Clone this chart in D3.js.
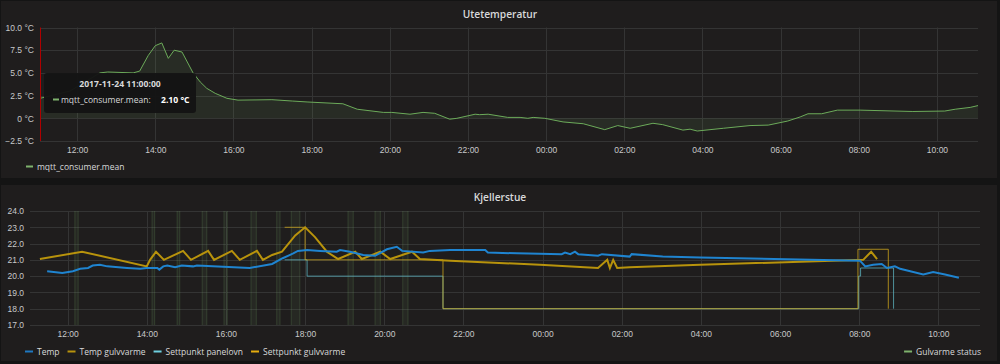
<!DOCTYPE html>
<html>
<head>
<meta charset="utf-8">
<script src="https://cdn.jsdelivr.net/npm/d3@7"></script>
<style>
  body { margin: 0; background: #141414; }
  svg { display: block; font-family: "Open Sans", sans-serif; }
  .tick text { fill: #c8c9ca; font-size: 8.5px; }
</style>
</head>
<body>
<div id="chart"></div>
<script>
// time strings are "day HH:MM" in November 2017
var uteSeries = [
  ["24 11:03", 2.2], ["24 11:49", 3.0], ["24 12:35", 5.0], ["24 12:47", 5.1], ["24 13:26", 5.0],
  ["24 13:36", 5.2], ["24 13:49", 6.9], ["24 14:00", 8.0], ["24 14:10", 8.3], ["24 14:20", 6.6],
  ["24 14:29", 7.5], ["24 14:41", 7.3], ["24 14:58", 5.0], ["24 15:09", 4.0], ["24 15:19", 3.3],
  ["24 15:32", 2.75], ["24 15:50", 2.2], ["24 16:07", 2.0], ["24 16:59", 2.05], ["24 17:31", 1.9],
  ["24 17:53", 1.8], ["24 18:48", 1.6], ["24 19:10", 1.0], ["24 19:50", 0.65], ["24 20:03", 0.65],
  ["24 20:31", 0.45], ["24 20:51", 0.65], ["24 21:09", 0.55], ["24 21:32", -0.1], ["24 21:43", 0.0],
  ["24 22:11", 0.45], ["24 22:18", 0.4], ["24 22:31", 0.45], ["24 23:01", 0.1], ["24 23:20", 0.1],
  ["24 23:32", 0.0], ["24 23:40", 0.1], ["24 23:58", 0.0], ["25 00:26", -0.4], ["25 00:57", -0.6],
  ["25 01:30", -1.25], ["25 01:50", -0.8], ["25 02:09", -1.1], ["25 02:44", -0.55], ["25 02:59", -0.7],
  ["25 03:30", -1.3], ["25 03:41", -1.2], ["25 03:52", -1.4], ["25 04:32", -1.1], ["25 05:13", -0.8],
  ["25 05:41", -0.75], ["25 06:11", -0.3], ["25 06:30", 0.15], ["25 06:42", 0.5], ["25 07:03", 0.5],
  ["25 07:27", 0.9], ["25 08:02", 0.9], ["25 09:23", 0.75], ["25 10:12", 0.8], ["25 10:28", 1.0],
  ["25 10:51", 1.2], ["25 11:03", 1.4]
];

var tempSeries = [
  ["24 11:29", 20.3], ["24 11:52", 20.2], ["24 12:08", 20.3], ["24 12:19", 20.45], ["24 12:31", 20.5],
  ["24 12:38", 20.65], ["24 12:49", 20.7], ["24 13:00", 20.6], ["24 13:30", 20.5], ["24 13:50", 20.45],
  ["24 14:00", 20.5], ["24 14:16", 20.5], ["24 14:19", 20.4], ["24 14:25", 20.6], ["24 14:31", 20.65],
  ["24 14:43", 20.55], ["24 14:53", 20.65], ["24 15:10", 20.6], ["24 15:16", 20.65], ["24 16:36", 20.5],
  ["24 17:10", 20.75], ["24 17:26", 21.1], ["24 17:34", 21.25], ["24 17:42", 21.4], ["24 17:49", 21.55],
  ["24 18:03", 21.6], ["24 18:23", 21.55], ["24 18:48", 21.5], ["24 18:53", 21.6], ["24 19:08", 21.5],
  ["24 19:28", 21.3], ["24 19:46", 21.25], ["24 20:04", 21.65], ["24 20:19", 21.8], ["24 20:27", 21.55],
  ["24 20:59", 21.45], ["24 21:09", 21.55], ["24 21:40", 21.6], ["24 22:33", 21.6], ["24 22:37", 21.45],
  ["24 23:21", 21.4], ["25 00:29", 21.35], ["25 00:34", 21.45], ["25 00:42", 21.35], ["25 00:49", 21.5],
  ["25 00:54", 21.35], ["25 01:24", 21.25], ["25 01:30", 21.35], ["25 02:12", 21.2], ["25 02:15", 21.35],
  ["25 03:02", 21.2], ["25 03:59", 21.15], ["25 08:01", 20.95], ["25 08:09", 20.6], ["25 08:21", 20.7],
  ["25 08:34", 20.75], ["25 08:42", 20.5], ["25 08:54", 20.6], ["25 09:02", 20.45], ["25 09:37", 20.1],
  ["25 09:52", 20.25], ["25 10:10", 20.1], ["25 10:31", 19.9]
];

var tempGulvSeries = [
  ["24 11:18", 21.05], ["24 12:22", 21.5], ["24 14:00", 20.6], ["24 14:05", 21.0], ["24 14:14", 21.5],
  ["24 14:26", 21.0], ["24 14:55", 21.55], ["24 15:07", 21.0], ["24 15:33", 21.55], ["24 15:42", 21.0],
  ["24 16:09", 21.55], ["24 16:21", 21.0], ["24 16:47", 21.55], ["24 16:56", 21.0], ["24 17:10", 21.3],
  ["24 17:25", 21.5], ["24 17:45", 22.5], ["24 18:00", 23.0], ["24 18:15", 22.4], ["24 18:33", 21.5],
  ["24 18:50", 21.05], ["24 19:16", 21.5], ["24 19:26", 21.05], ["24 19:54", 21.5], ["24 20:09", 21.05],
  ["24 20:42", 21.5], ["24 20:54", 21.05], ["24 21:40", 20.95], ["24 23:56", 20.7], ["25 01:24", 20.5],
  ["25 01:38", 21.0], ["25 01:42", 20.5], ["25 01:47", 21.0], ["25 01:53", 20.5], ["25 02:12", 20.55],
  ["25 03:59", 20.7], ["25 08:06", 21.0], ["25 08:18", 21.5], ["25 08:27", 21.05]
];

var settPanelSeries = [
  ["24 17:29", 21.0], ["24 18:03", 20.0], ["24 21:29", 18.0], ["25 07:59", 20.0], ["25 08:02", 20.5], ["25 08:52", 18.0]
];

var settGulvSeries = [
  ["24 17:29", 23.0], ["24 18:00", 21.0], ["24 21:29", 18.0], ["25 07:58", 21.65], ["25 08:44", 18.0]
];

// periods where Gulvarme status is on
var gulvStatusOn = [
  ["24 12:11", "24 12:16"], ["24 14:08", "24 14:12"], ["24 14:46", "24 14:50"], ["24 15:24", "24 15:31"],
  ["24 15:57", "24 16:02"], ["24 16:38", "24 16:46"], ["24 17:17", "24 17:22"], ["24 17:39", "24 17:52"],
  ["24 19:05", "24 19:13"], ["24 19:46", "24 19:54"], ["24 20:28", "24 20:36"]
];

var uteTicks = [-2.5, 0, 2.5, 5, 7.5, 10];
var kjellerTicks = [17, 18, 19, 20, 21, 22, 23, 24];
var timeStart = "24 11:03", timeEnd = "25 11:03";

var tooltipTime = "2017-11-24 11:00:00";
var tooltipValue = "2.10 °C";

var parse = d3.timeParse("%Y-%m-%d %H:%M");
function t(s) { return parse("2017-11-" + s); }
function rows(arr) { return arr.map(function(d) { return { t: t(d[0]), v: d[1] }; }); }

var width = 1000, height = 364;
var svg = d3.select("#chart").append("svg")
  .attr("width", width)
  .attr("height", height);

var gridColor = "#343434";
var textColor = "#d8d9da";

// panels
svg.append("rect").attr("x", 1).attr("y", 1).attr("width", 996).attr("height", 177).attr("fill", "#1f1d1d");
svg.append("rect").attr("x", 1).attr("y", 185).attr("width", 996).attr("height", 176).attr("fill", "#1f1d1d");

function drawPanel(opts) {
  var g = svg.append("g");
  var x = d3.scaleTime().domain([t(timeStart), t(timeEnd)]).range([opts.left, opts.right]);
  var y = d3.scaleLinear().domain(opts.domain).range([opts.bottom, opts.top]);

  g.append("text")
    .attr("x", 500).attr("y", opts.titleY)
    .attr("text-anchor", "middle")
    .attr("fill", textColor)
    .style("font-size", "10.2px")
    .style("font-weight", 600)
    .text(opts.title);

  // grid
  g.append("g").selectAll("line").data(opts.ticks).enter().append("line")
    .attr("x1", opts.left).attr("x2", opts.right)
    .attr("y1", function(d) { return Math.round(y(d)) + 0.5; })
    .attr("y2", function(d) { return Math.round(y(d)) + 0.5; })
    .attr("stroke", gridColor);
  g.append("g").selectAll("line").data(x.ticks(d3.timeHour.every(2))).enter().append("line")
    .attr("x1", function(d) { return Math.round(x(d)) + 0.5; })
    .attr("x2", function(d) { return Math.round(x(d)) + 0.5; })
    .attr("y1", opts.top).attr("y2", opts.bottom)
    .attr("stroke", gridColor);

  var yAxis = d3.axisLeft(y).tickValues(opts.ticks).tickSize(0).tickPadding(3).tickFormat(opts.fmt);
  g.append("g").attr("transform", "translate(" + opts.labelX + ",0)").call(yAxis)
    .call(function(a) { a.select(".domain").remove(); });

  var xAxis = d3.axisBottom(x).ticks(d3.timeHour.every(2)).tickSize(0).tickPadding(6)
    .tickFormat(d3.timeFormat("%H:%M"));
  g.append("g").attr("transform", "translate(0," + opts.bottom + ")").call(xAxis)
    .call(function(a) { a.select(".domain").remove(); });

  return { g: g, x: x, y: y };
}

// ---------- Utetemperatur ----------
var top1 = drawPanel({
  title: "Utetemperatur", titleY: 18, left: 40, right: 978, top: 27.5, bottom: 141,
  domain: [-2.5, 10], ticks: uteTicks, labelX: 37,
  fmt: function(d) { return (d === 0 ? "0" : d3.format(".1f")(d)) + " °C"; }
});

var ute = rows(uteSeries);
top1.g.append("path").datum(ute)
  .attr("fill", "rgba(126,178,109,0.10)")
  .attr("d", d3.area().x(function(d) { return top1.x(d.t); }).y0(top1.y(0)).y1(function(d) { return top1.y(d.v); }));
top1.g.append("path").datum(ute)
  .attr("fill", "none").attr("stroke", "#6cab5a").attr("stroke-width", 1)
  .attr("d", d3.line().x(function(d) { return top1.x(d.t); }).y(function(d) { return top1.y(d.v); }));

// crosshair
top1.g.append("line")
  .attr("x1", 40.5).attr("x2", 40.5).attr("y1", 27.5).attr("y2", 141)
  .attr("stroke", "#b00000").attr("stroke-width", 1);

// tooltip
var tip = top1.g.append("g");
tip.append("rect").attr("x", 44).attr("y", 73).attr("width", 152).attr("height", 40).attr("rx", 3)
  .attr("fill", "#141414").attr("fill-opacity", 0.96);
tip.append("text").attr("x", 120).attr("y", 87).attr("text-anchor", "middle")
  .attr("fill", textColor).style("font-size", "8.6px").style("font-weight", 700).text(tooltipTime);
tip.append("line").attr("x1", 53).attr("x2", 59).attr("y1", 99.5).attr("y2", 99.5)
  .attr("stroke", "#7eb26d").attr("stroke-width", 2);
tip.append("text").attr("x", 61).attr("y", 102.5).attr("fill", textColor).style("font-size", "8.5px")
  .text("mqtt_consumer.mean:");
tip.append("text").attr("x", 161).attr("y", 102.5).attr("fill", "#ffffff").style("font-size", "8.6px")
  .style("font-weight", 700).text(tooltipValue);

// legend
svg.append("line").attr("x1", 26).attr("x2", 33).attr("y1", 166.5).attr("y2", 166.5)
  .attr("stroke", "#7eb26d").attr("stroke-width", 2);
svg.append("text").attr("x", 37).attr("y", 169.5).attr("fill", textColor).style("font-size", "8.5px")
  .text("mqtt_consumer.mean");

// ---------- Kjellerstue ----------
var p2 = drawPanel({
  title: "Kjellerstue", titleY: 201, left: 30, right: 980, top: 211, bottom: 325,
  domain: [17, 24], ticks: kjellerTicks, labelX: 27,
  fmt: d3.format(".1f")
});

// status bars
var statusG = p2.g.append("g");
gulvStatusOn.forEach(function(p) {
  var x0 = p2.x(t(p[0])), x1 = p2.x(t(p[1]));
  statusG.append("rect").attr("x", x0).attr("y", 211).attr("width", x1 - x0).attr("height", 114)
    .attr("fill", "rgba(126,178,109,0.08)");
  [x0, x1].forEach(function(xx) {
    statusG.append("line").attr("x1", xx).attr("x2", xx).attr("y1", 211).attr("y2", 325)
      .attr("stroke", "rgba(126,178,109,0.2)").attr("stroke-width", 1);
  });
});

function line2(curve) {
  return d3.line().curve(curve || d3.curveLinear)
    .x(function(d) { return p2.x(d.t); }).y(function(d) { return p2.y(d.v); });
}

p2.g.append("path").datum(rows(settPanelSeries))
  .attr("fill", "none").attr("stroke", "#5fb8c6").attr("stroke-opacity", 0.75).attr("stroke-width", 1)
  .attr("d", line2(d3.curveStepAfter));
p2.g.append("path").datum(rows(settGulvSeries))
  .attr("fill", "none").attr("stroke", "#d4ab1c").attr("stroke-opacity", 0.75).attr("stroke-width", 1)
  .attr("d", line2(d3.curveStepAfter));
p2.g.append("path").datum(rows(tempGulvSeries))
  .attr("fill", "none").attr("stroke", "#b8930c").attr("stroke-width", 2)
  .attr("d", line2());
p2.g.append("path").datum(rows(tempSeries))
  .attr("fill", "none").attr("stroke", "#1f84d0").attr("stroke-width", 2)
  .attr("d", line2());

// legend
var legendItems = [
  { name: "Temp", color: "#1f78c1" },
  { name: "Temp gulvvarme", color: "#b8930c" },
  { name: "Settpunkt panelovn", color: "#6ed0e0" },
  { name: "Settpunkt gulvvarme", color: "#e5ac0e" }
];
var lx = 25;
legendItems.forEach(function(it) {
  svg.append("line").attr("x1", lx).attr("x2", lx + 8).attr("y1", 351.5).attr("y2", 351.5)
    .attr("stroke", it.color).attr("stroke-width", 2);
  var tx = svg.append("text").attr("x", lx + 12).attr("y", 354.5).attr("fill", textColor)
    .style("font-size", "8.5px").text(it.name);
  lx += 12 + tx.node().getComputedTextLength() + 8;
});
var st = svg.append("text").attr("x", 981).attr("y", 354.5).attr("text-anchor", "end")
  .attr("fill", textColor).style("font-size", "8.5px").text("Gulvarme status");
var sw = st.node().getComputedTextLength();
svg.append("line").attr("x1", 981 - sw - 12).attr("x2", 981 - sw - 4).attr("y1", 351.5).attr("y2", 351.5)
  .attr("stroke", "#7eb26d").attr("stroke-width", 2);
</script>
</body>
</html>
